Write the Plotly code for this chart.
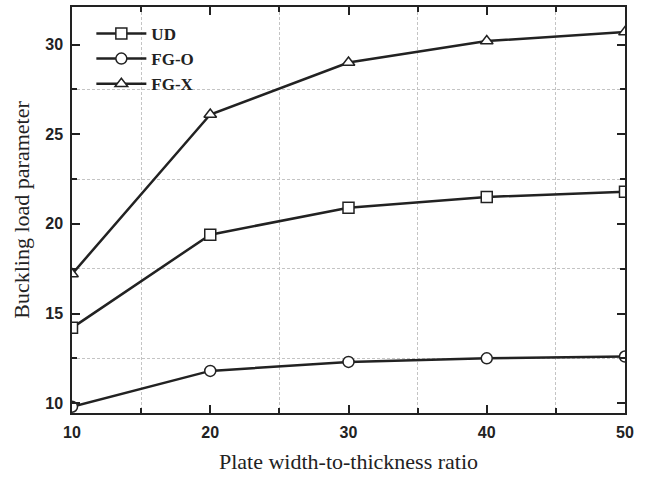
import plotly.graph_objects as go

ratio = [10, 20, 30, 40, 50]
ud = [14.2, 19.4, 20.9, 21.5, 21.8]
fg_o = [9.8, 11.8, 12.3, 12.5, 12.6]
fg_x = [17.2, 26.1, 29.0, 30.2, 30.7]

series = [("UD", ud, "square"), ("FG-O", fg_o, "circle"), ("FG-X", fg_x, "triangle-up")]

fig = go.Figure()
for name, vals, sym in series:
    fig.add_trace(go.Scatter(
        x=ratio, y=vals, name=name, mode="lines+markers",
        line=dict(color="#222222", width=2.5),
        marker=dict(symbol=sym, size=11, color="white",
                    line=dict(color="#222222", width=1.5)),
    ))

axis_common = dict(
    showline=True, linecolor="#222222", linewidth=1.5, mirror="ticks",
    ticks="inside", ticklen=8, tickwidth=1.5, tickcolor="#222222",
    showgrid=False, zeroline=False, ticklabelstandoff=4,
    tickfont=dict(family="Liberation Sans", size=16, color="#222222", weight="bold"),
)
minor_common = dict(ticks="inside", ticklen=5, tickwidth=1.5, tickcolor="#222222",
                    showgrid=True, gridcolor="#c4c4c4", griddash="3px,2px", gridwidth=1)

fig.update_xaxes(
    **axis_common, range=[10, 50], tickvals=[10, 20, 30, 40, 50],
    minor=dict(tickvals=[15, 25, 35, 45], **minor_common),
    title=dict(text="Plate width-to-thickness ratio",
               font=dict(family="Liberation Serif", size=22, color="#222222"), standoff=14),
)
fig.update_yaxes(
    **axis_common, range=[9.45, 32.1], tickvals=[10, 15, 20, 25, 30],
    minor=dict(tickvals=[12.5, 17.5, 22.5, 27.5], **minor_common),
    title=dict(text="Buckling load parameter",
               font=dict(family="Liberation Serif", size=22, color="#222222"), standoff=10),
)

fig.update_layout(
    width=646, height=479,
    margin=dict(l=72, r=21, t=5, b=66),
    paper_bgcolor="white", plot_bgcolor="white",
    legend=dict(x=0.035, y=0.978, xanchor="left", yanchor="top", bgcolor="rgba(255,255,255,0)",
                font=dict(family="Liberation Serif", size=17, color="#222222", weight="bold"),
                tracegroupgap=0, itemwidth=50),
)

fig.write_html("out.html", config={"displayModeBar": False},
               post_script="document.body.style.margin='0';")
